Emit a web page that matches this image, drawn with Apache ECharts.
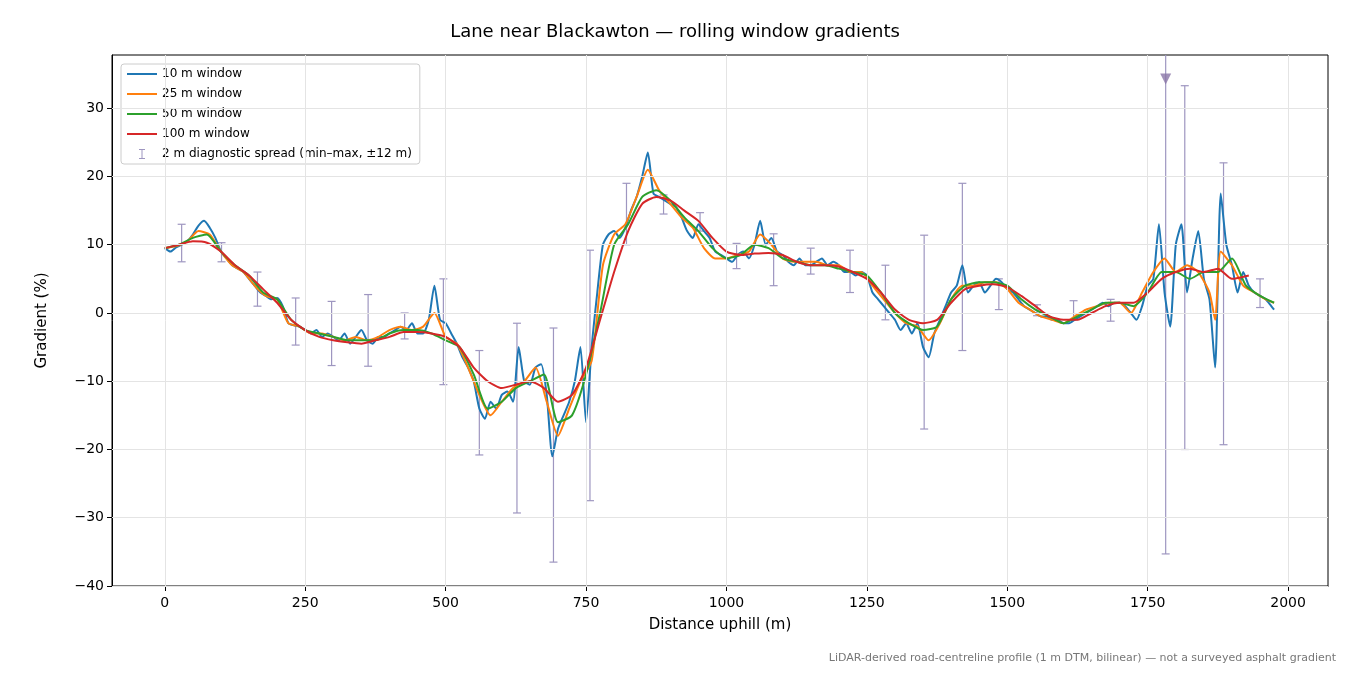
<!DOCTYPE html>
<html>
<head>
<meta charset="utf-8">
<script src="https://cdn.jsdelivr.net/npm/echarts@6/dist/echarts.min.js"></script>
<style>html,body{margin:0;padding:0;background:#fff}#chart{width:1350px;height:675px}</style>
</head>
<body>
<div id="chart"></div>
<script>
// 10 m window, every 10 m from 0
var w10 = [9.5,9,9.6,10,10.5,11.5,12.8,13.5,12.5,11,
  9,8,7,6.5,6,5,4,3,2.5,2,
  2.2,1,-1.5,-1.8,-2,-2.5,-3,-2.5,-3.5,-3,
  -3.5,-4,-3,-4.5,-3.5,-2.5,-4,-4.5,-3.5,-3.5,
  -3,-2.5,-2,-2.5,-1.5,-3,-3,-1,4,-1,
  -1.5,-3,-4.5,-6.5,-8,-10,-14,-15.5,-13,-14,
  -12,-11.5,-13,-5,-10,-10.5,-8,-7.5,-12,-21,
  -17,-15,-13,-10,-5,-16,-5,3,10,11.5,
  12,11,12.5,15,17,20,23.5,17.5,17,16.5,
  16,15.5,14,12,11,13,12,11,9,8.5,
  8,7.5,8.5,9,8,10,13.5,10,11,9,
  8.5,7.5,7,8,7,7,7.5,8,7,7.5,
  7,6,6,5.5,6,5.5,3,2,1,0,
  -1,-2.5,-1.5,-3,-1.5,-5,-6.5,-3,-1,1,
  3,4,7,3,4,4.5,3,4,5,4.5,
  3.5,3,2,1,0.5,0,-0.5,-0.5,-1,-1,
  -1.5,-1.5,-1,-0.5,0,0.5,1,1.5,1,1.5,
  1.5,1,0,-1,1,4,5,13,3,-2,
  10,13,3,8,12,5,2,-8,17.5,10,
  7,3,6,4,3,2.5,2,1,0.5];
var w25 = [[0,9.5],[20,9.8],[40,10.5],[60,12],[80,11.5],[100,9],[120,7],[140,6],[160,4],[180,2.5],
  [200,2],[220,-1.5],[240,-2],[260,-3],[280,-3],[300,-3.5],[320,-4],[340,-3.5],[360,-4],[380,-3.5],
  [400,-2.5],[420,-2],[440,-2.5],[460,-2],[480,0],[500,-3.5],[520,-4.5],[540,-8],[560,-12],[580,-15],
  [600,-13],[620,-11],[640,-10],[660,-8],[680,-13],[700,-18],[720,-14],[740,-10],[760,-7],[780,7],
  [800,11.5],[820,13],[840,17],[860,21],[880,18],[900,16],[920,14],[940,12.5],[960,9.5],[980,8],
  [1000,8],[1020,8.5],[1040,9],[1060,11.5],[1080,10],[1100,8],[1120,7.5],[1140,7.5],[1160,7.5],[1180,7],
  [1200,7],[1220,6],[1240,6],[1260,4],[1280,2],[1300,0],[1320,-1.5],[1340,-2],[1360,-4],[1380,-1.5],
  [1400,2],[1420,4],[1440,4],[1460,4.5],[1480,4.5],[1500,3.5],[1520,1.5],[1540,0.5],[1560,-0.5],[1580,-1],
  [1600,-1.5],[1620,-0.5],[1640,0.5],[1660,1],[1680,1.5],[1700,1.5],[1720,0],[1740,3],[1760,6],[1780,8],
  [1800,6],[1820,7],[1840,6],[1860,3],[1870,-1],[1880,9],[1900,7],[1920,4],[1940,3],[1960,2],[1975,1.5]];
var w50 = [[0,9.5],[25,10],[50,11],[75,11.5],[100,9],[125,7],[150,5.5],[175,3],[200,2],[225,-1],
  [250,-2.5],[275,-3],[300,-3.5],[325,-4],[350,-4],[375,-4],[400,-3],[425,-2.5],[450,-2.5],[475,-3],
  [500,-4],[525,-5],[550,-9],[575,-14],[600,-13],[625,-11],[650,-10],[675,-9],[700,-16],[725,-15],
  [750,-9],[775,0],[800,10],[825,13],[850,17],[875,18],[900,16.5],[925,14],[950,12],[975,9.5],
  [1000,8],[1025,8.5],[1050,10],[1075,9.5],[1100,8],[1125,7.5],[1150,7],[1175,7],[1200,6.5],[1225,6],
  [1250,5.5],[1275,3],[1300,0],[1325,-1.5],[1350,-2.5],[1375,-2],[1400,2],[1425,4],[1450,4.5],[1475,4.5],
  [1500,4],[1525,2],[1550,0.5],[1575,-0.5],[1600,-1.5],[1625,-0.5],[1650,0.5],[1675,1.5],[1700,1.5],[1725,1],
  [1750,3],[1775,6],[1800,6],[1825,5],[1850,6],[1875,6],[1900,8],[1925,4],[1950,2.5],[1975,1.5]];
var w100 = [[0,9.5],[25,10],[50,10.5],[75,10.3],[100,9],[125,7],[150,5.5],[175,3.5],[200,1.5],[225,-1],
  [250,-2.5],[275,-3.5],[300,-4],[325,-4.3],[350,-4.5],[375,-4],[400,-3.5],[425,-2.8],[450,-2.8],[475,-3],
  [500,-3.5],[525,-5],[550,-8],[575,-10],[600,-11],[625,-10.5],[650,-10],[675,-11],[700,-13],[725,-12],
  [750,-8],[775,-1],[800,6],[825,12],[850,16],[875,17],[900,16.5],[925,15],[950,13.5],[975,11],
  [1000,9],[1025,8.5],[1050,8.7],[1075,8.8],[1100,8.5],[1125,7.5],[1150,7],[1175,7],[1200,6.8],[1225,6],
  [1250,5],[1275,3],[1300,0.5],[1325,-1],[1350,-1.5],[1375,-1],[1400,1.5],[1425,3.5],[1450,4],[1475,4.2],
  [1500,3.8],[1525,2.5],[1550,1],[1575,-0.5],[1600,-1],[1625,-1],[1650,0],[1675,1],[1700,1.5],[1725,1.5],
  [1750,3],[1775,5],[1800,6],[1825,6.5],[1850,6],[1875,6.5],[1900,5],[1930,5.5]];
// diagnostic spread: [x, min, max]
var spread = [[30,7.5,13],[101,7.5,10.3],[165,1,6],[233,-4.7,2.2],[297,-7.7,1.7],[362,-7.8,2.7],
  [427,-3.8,0],[496,-10.5,5],[560,-20.8,-5.5],[627,-29.3,-1.5],[692,-36.5,-2.2],[757,-27.5,9.2],
  [822,10,19],[888,14.5,17.3],[953,12,14.7],[1018,6.5,10.2],[1084,4,11.6],[1150,5.7,9.5],
  [1220,3,9.2],[1283,-1,7],[1352,-17,11.4],[1420,-5.5,19],[1485,0.5,5],[1553,-0.4,1.2],
  [1618,-1,1.8],[1684,-1.2,2],[1782,-35.3,45],[1816,-20,33.3],[1885,-19.3,22],[1950,0.8,5]];
var offscale = [[1782,34.3]];
var xTicks = [0, 250, 500, 750, 1000, 1250, 1500, 1750, 2000];
var yTicks = [-40, -30, -20, -10, 0, 10, 20, 30];

var blue = w10.map(function (v, i) { return [i * 10 > 1975 ? 1975 : i * 10, v]; });
var myChart = echarts.init(document.getElementById('chart'));
var lineSeries = function (name, color, data) {
    return {name: name, type: 'line', data: data, showSymbol: false, smooth: 0.2,
        lineStyle: {color: color, width: 2}, itemStyle: {color: color}, z: 3};
};
var tick = {fontSize: 14, color: '#000', fontFamily: 'DejaVu Sans'};
var gridLines = xTicks.map(function (v) { return {xAxis: v}; })
    .concat(yTicks.map(function (v) { return {yAxis: v}; }));
option = {
    animation: false,
    title: {text: 'Lane near Blackawton — rolling window gradients', left: 'center', top: 18,
        textStyle: {fontSize: 18, fontWeight: 'normal', color: '#000', fontFamily: 'DejaVu Sans'}},
    grid: {left: 112, right: 22, top: 55, bottom: 89, show: true, borderColor: '#000', borderWidth: 1},
    legend: {orient: 'vertical', left: 121, top: 64, itemWidth: 30, itemHeight: 10, itemGap: 8,
        padding: [4, 8, 4, 6], backgroundColor: '#fff', borderColor: '#ccc', borderWidth: 1, borderRadius: 3,
        textStyle: {fontSize: 12, color: '#000', fontFamily: 'DejaVu Sans'},
        data: [{name: '10 m window', icon: 'path://M0,4 L30,4 L30,6 L0,6 Z'},
               {name: '25 m window', icon: 'path://M0,4 L30,4 L30,6 L0,6 Z'},
               {name: '50 m window', icon: 'path://M0,4 L30,4 L30,6 L0,6 Z'},
               {name: '100 m window', icon: 'path://M0,4 L30,4 L30,6 L0,6 Z'},
               {name: '2 m diagnostic spread (min–max, ±12 m)', icon: 'path://M12,0 L18,0 L18,1 L15.5,1 L15.5,9 L18,9 L18,10 L12,10 L12,9 L14.5,9 L14.5,1 L12,1 Z'}]},
    xAxis: {type: 'value', min: -94, max: 2071,
        name: 'Distance uphill (m)', nameLocation: 'middle', nameGap: 32,
        nameTextStyle: {fontSize: 15, color: '#000', fontFamily: 'DejaVu Sans'},
        axisLine: {onZero: false, lineStyle: {color: '#000'}},
        axisTick: {customValues: xTicks, lineStyle: {color: '#000'}},
        axisLabel: Object.assign({customValues: xTicks, margin: 10, formatter: function (v) { return '' + v; }}, tick),
        splitLine: {show: false}},
    yAxis: {type: 'value', min: -40, max: 37.8,
        name: 'Gradient (%)', nameLocation: 'middle', nameGap: 62, nameRotate: 90,
        nameTextStyle: {fontSize: 15, color: '#000', fontFamily: 'DejaVu Sans'},
        axisLine: {show: true, onZero: false, lineStyle: {color: '#000'}},
        axisTick: {show: true, customValues: yTicks, lineStyle: {color: '#000'}},
        axisLabel: Object.assign({customValues: yTicks, margin: 8, formatter: function (v) {
            return v < 0 ? '\u2212' + (-v) : '' + v; }}, tick),
        splitLine: {show: false}},
    series: [
        {name: 'grid', type: 'line', data: [], silent: true,
            markLine: {silent: true, symbol: 'none', label: {show: false},
                lineStyle: {color: '#e4e4e4', type: 'solid', width: 1}, data: gridLines}},
        {name: '2 m diagnostic spread (min–max, ±12 m)', type: 'custom', data: spread, z: 2,
            itemStyle: {color: '#9e96c0'},
            encode: {x: 0, y: [1, 2]},
            renderItem: function (params, api) {
                var lo = api.coord([api.value(0), api.value(1)]);
                var hi = api.coord([api.value(0), api.value(2)]);
                var st = {stroke: '#9e96c0', lineWidth: 1.2};
                return {type: 'group', clipPath: {type: 'rect', shape: {x: params.coordSys.x, y: params.coordSys.y,
                        width: params.coordSys.width, height: params.coordSys.height}},
                    children: [
                    {type: 'line', shape: {x1: lo[0], y1: lo[1], x2: hi[0], y2: hi[1]}, style: st},
                    {type: 'line', shape: {x1: lo[0] - 4, y1: lo[1], x2: lo[0] + 4, y2: lo[1]}, style: st},
                    {type: 'line', shape: {x1: hi[0] - 4, y1: hi[1], x2: hi[0] + 4, y2: hi[1]}, style: st}]};
            }},
        lineSeries('10 m window', '#1f77b4', blue),
        lineSeries('25 m window', '#ff7f0e', w25),
        lineSeries('50 m window', '#2ca02c', w50),
        lineSeries('100 m window', '#d62728', w100),
        {name: 'off', type: 'scatter', data: offscale, symbol: 'triangle', symbolRotate: 180,
            symbolSize: 11, itemStyle: {color: '#8a76a8'}, z: 5}
    ],
    graphic: [{type: 'text', right: 14, top: 653, style: {text: 'LiDAR-derived road-centreline profile (1 m DTM, bilinear) — not a surveyed asphalt gradient',
        fontSize: 11, fill: '#777', fontFamily: 'DejaVu Sans'}}]
};
myChart.setOption(option);
</script>
</body>
</html>
